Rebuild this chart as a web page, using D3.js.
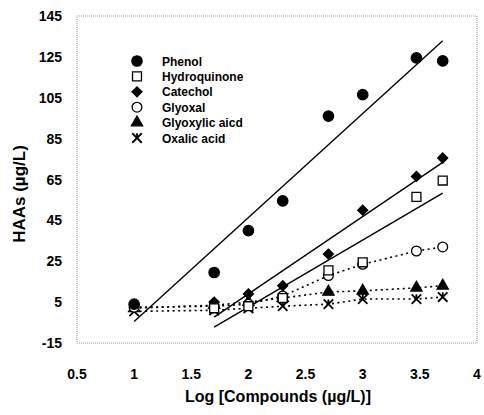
<!DOCTYPE html>
<html>
<head>
<meta charset="utf-8">
<title>HAAs vs log compounds</title>
<script src="https://cdn.jsdelivr.net/npm/d3@7"></script>
<style>
  body { margin: 0; background: #fff; }
  text { font-family: "Liberation Sans", Arial, sans-serif; font-weight: bold; fill: #000; }
</style>
</head>
<body>
<div id="chart"></div>
<script>
// log concentrations (x) and HAAs
var logConc = [1, 1.7, 2, 2.3, 2.7, 3, 3.47, 3.7];
var phenol       = [4, 19.5, 40, 54.5, 96, 106.5, 124.5, 123];
var hydroquinone = [null, 2, 3, 7, 20.5, 24.5, 56.5, 64.5];
var catechol     = [null, 5, 9, 13, 28.5, 50, 66.5, 75.5];
var glyoxal      = [2.5, 3, 4, 8, 18, 23.5, 30, 32];
var glyoxylic    = [2, 3.5, 5, 7, 10, 10.5, 12, 13];
var oxalic       = [0.5, 1, 2, 3, 4, 6.5, 6.5, 7.5];

var seriesNames = ["Phenol", "Hydroquinone", "Catechol", "Glyoxal", "Glyoxylic aicd", "Oxalic acid"];
var xTicks = [0.5, 1, 1.5, 2, 2.5, 3, 3.5, 4];
var yTicks = [-15, 5, 25, 45, 65, 85, 105, 125, 145];

var width = 484, height = 415;
var x = d3.scaleLinear().domain([0.5, 4]).range([77, 477]);
var y = d3.scaleLinear().domain([-15, 145]).range([343, 16]);

// X with a vertical stroke, like the oxalic acid marker
var symbolStar = {
  draw: function(ctx, size) {
    var r = Math.sqrt(size) / 2;
    ctx.moveTo(-r, -r); ctx.lineTo(r, r);
    ctx.moveTo(-r, r); ctx.lineTo(r, -r);
    ctx.moveTo(0, -r); ctx.lineTo(0, 0);
  }
};

var series = [
  { name: seriesNames[0], vals: phenol,       sym: d3.symbolCircle,   size: 85, fill: "#000", rot: 0,  link: "fit" },
  { name: seriesNames[1], vals: hydroquinone, sym: d3.symbolSquare,   size: 80, fill: "#fff", rot: 0,  link: "fit" },
  { name: seriesNames[2], vals: catechol,     sym: d3.symbolSquare,   size: 50, fill: "#000", rot: 45, link: "fit" },
  { name: seriesNames[3], vals: glyoxal,      sym: d3.symbolCircle,   size: 75, fill: "#fff", rot: 0,  link: "dots" },
  { name: seriesNames[4], vals: glyoxylic,    sym: d3.symbolTriangle, size: 55, fill: "#000", rot: 0,  link: "dots" },
  { name: seriesNames[5], vals: oxalic,       sym: symbolStar,        size: 90, fill: "none", rot: 0,  link: "dots" }
];

var svg = d3.select("#chart").append("svg")
  .attr("width", width)
  .attr("height", height);

// plot frame
svg.append("rect")
  .attr("x", x(0.5)).attr("y", y(145))
  .attr("width", x(4) - x(0.5)).attr("height", y(-15) - y(145))
  .attr("fill", "none").attr("stroke", "#999").attr("stroke-width", 1)
  .attr("stroke-dasharray", "1,1");

// tick labels
svg.selectAll(".ylab").data(yTicks).enter().append("text")
  .attr("class", "ylab")
  .attr("x", 62).attr("y", function(d) { return y(d) + 5; })
  .attr("text-anchor", "end").style("font-size", "14px")
  .text(function(d) { return d; });

svg.selectAll(".xlab").data(xTicks).enter().append("text")
  .attr("class", "xlab")
  .attr("x", function(d) { return x(d); }).attr("y", 379)
  .attr("text-anchor", "middle").style("font-size", "14px")
  .text(function(d) { return d; });

svg.append("text")
  .attr("x", 278).attr("y", 402)
  .attr("text-anchor", "middle").style("font-size", "16px")
  .text("Log [Compounds (µg/L)]");

svg.append("text")
  .attr("transform", "translate(25,194) rotate(-90)")
  .attr("text-anchor", "middle").style("font-size", "17px")
  .text("HAAs (µg/L)");

// least squares line through the points of one series
function fit(pts) {
  var mx = d3.mean(pts, function(p) { return p[0]; }),
      my = d3.mean(pts, function(p) { return p[1]; });
  var sxy = d3.sum(pts, function(p) { return (p[0] - mx) * (p[1] - my); }),
      sxx = d3.sum(pts, function(p) { return (p[0] - mx) * (p[0] - mx); });
  var b = sxy / sxx, a = my - b * mx;
  var x0 = d3.min(pts, function(p) { return p[0]; }),
      x1 = d3.max(pts, function(p) { return p[0]; });
  return [[x0, a + b * x0], [x1, a + b * x1]];
}

var line = d3.line()
  .x(function(d) { return x(d[0]); })
  .y(function(d) { return y(d[1]); });

series.forEach(function(s) {
  s.pts = logConc.map(function(v, i) { return [v, s.vals[i]]; })
    .filter(function(p) { return p[1] != null; });
});

// lines under the markers
series.forEach(function(s) {
  if (s.link == "fit") {
    svg.append("path").attr("d", line(fit(s.pts)))
      .attr("fill", "none").attr("stroke", "#000").attr("stroke-width", 1.4);
  } else {
    svg.append("path").attr("d", line(s.pts))
      .attr("fill", "none").attr("stroke", "#000").attr("stroke-width", 1.6)
      .attr("stroke-dasharray", "2,3.5");
  }
});

// markers, drawn last series first so phenol sits on top
series.slice().reverse().forEach(function(s) {
  svg.selectAll(null).data(s.pts).enter().append("path")
    .attr("transform", function(d) {
      return "translate(" + x(d[0]) + "," + y(d[1]) + ") rotate(" + s.rot + ")";
    })
    .attr("d", d3.symbol().type(s.sym).size(s.size))
    .attr("fill", s.fill).attr("stroke", "#000")
    .attr("stroke-width", s.sym == symbolStar ? 1.8 : 1.3);
});

// legend
var legend = svg.selectAll(".leg").data(series).enter().append("g")
  .attr("class", "leg")
  .attr("transform", function(d, i) { return "translate(137," + (61 + i * 15.4) + ")"; });

legend.append("path")
  .attr("transform", function(d) { return "rotate(" + d.rot + ")"; })
  .attr("d", function(d) { return d3.symbol().type(d.sym).size(d.size)(); })
  .attr("fill", function(d) { return d.fill; }).attr("stroke", "#000")
  .attr("stroke-width", function(d) { return d.sym == symbolStar ? 1.8 : 1.3; });

legend.append("text")
  .attr("x", 25).attr("y", 4.5)
  .style("font-size", "12px")
  .text(function(d) { return d.name; });
</script>
</body>
</html>
